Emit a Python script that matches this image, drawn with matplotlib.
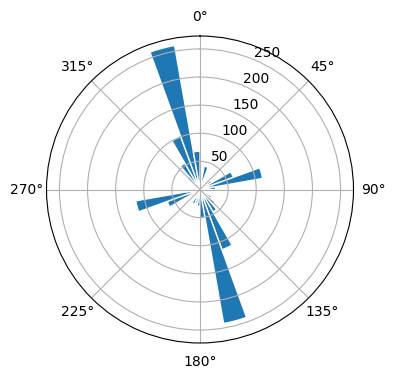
import numpy as np
import matplotlib
matplotlib.use("Agg")
import matplotlib.pyplot as plt

# Bin left edges in degrees (10-degree bins) and counts per bin
bin_edges_deg = list(range(0, 360, 10))
counts = [12, 42, 18, 10, 22, 25, 63, 113, 28, 20,
          12, 15, 25, 35, 46, 114, 242, 50, 30, 25,
          28, 15, 10, 20, 62, 116, 25, 15, 10, 18,
          12, 30, 54, 100, 260, 68]
bar_width_deg = 10

fig = plt.figure(figsize=(3.96, 3.8), dpi=100)
ax = fig.add_axes([46.5 / 396, 37 / 380, 307 / 396, 307 / 380], projection="polar")
ax.set_theta_zero_location("N")
ax.set_theta_direction(-1)

theta = np.deg2rad(bin_edges_deg)
ax.bar(theta, counts, width=np.deg2rad(bar_width_deg), align="edge",
       color="C0", edgecolor="white", linewidth=1)
ax.set_rticks([50, 100, 150, 200, 250])

fig.savefig("out.png", dpi=100)
